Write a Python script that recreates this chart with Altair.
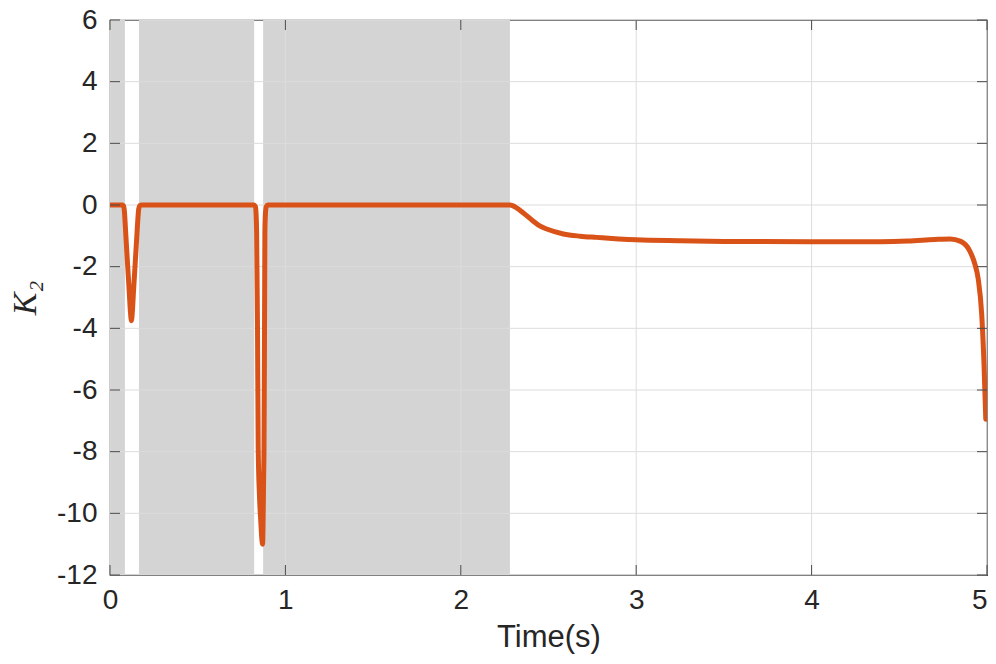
import altair as alt
import pandas as pd

# ---- data ----
time = [0, 0.05, 0.07, 0.077, 0.082, 0.09, 0.101, 0.11, 0.117, 0.122, 0.127, 0.134, 0.1425,
        0.152, 0.159, 0.164, 0.17, 0.18, 0.4, 0.6, 0.82, 0.829, 0.833, 0.836, 0.841, 0.845,
        0.852, 0.860, 0.866, 0.870, 0.873, 0.876, 0.878, 0.881, 0.883, 0.886, 0.891, 0.9,
        1.2, 1.6, 2.0, 2.28, 2.295, 2.32, 2.355, 2.41, 2.45, 2.49, 2.585, 2.68, 2.774, 2.9,
        3.0, 3.25, 3.5, 4.0, 4.39, 4.55, 4.7, 4.79, 4.85, 4.9, 4.93, 4.95, 4.97, 4.983, 4.993]
k2 = [0, 0, 0, -0.03, -0.2, -0.95, -2.0, -2.85, -3.5, -3.75, -3.5, -2.8, -2.0,
      -1.1, -0.45, -0.12, -0.02, 0, 0, 0, 0, -0.05, -0.3, -0.9, -4.0, -7.9,
      -9.4, -10.3, -10.85, -11.0, -10.2, -8.8, -7.9, -4.0, -0.9, -0.3, -0.05, 0,
      0, 0, 0, 0, -0.02, -0.1, -0.25, -0.51, -0.68, -0.78, -0.94, -1.01, -1.05, -1.1,
      -1.13, -1.16, -1.18, -1.19, -1.19, -1.17, -1.12, -1.1, -1.18, -1.47, -1.9, -2.4, -3.56, -5.17, -6.95]

shade_start = [0.0, 0.165, 0.873]
shade_end = [0.085, 0.822, 2.28]

x_ticks = [0, 1, 2, 3, 4, 5]
y_ticks = [6, 4, 2, 0, -2, -4, -6, -8, -10, -12]

W, H = 877, 555
TICK = 10
AXIS_COLOR = "#262626"

line_df = pd.DataFrame({"t": time, "k": k2})
shade_df = pd.DataFrame({"start": shade_start, "end": shade_end})
xt_df = pd.DataFrame({"t": x_ticks})
yt_df = pd.DataFrame({"k": y_ticks})

xscale = alt.Scale(domain=[0, 5], nice=False, zero=False)
yscale = alt.Scale(domain=[-12, 6], nice=False, zero=False)

shade = alt.Chart(shade_df).mark_rect(color="#d4d4d4").encode(
    x=alt.X("start:Q", scale=xscale,
            axis=alt.Axis(values=x_ticks, title="Time(s)", grid=False, ticks=False, domain=False,
                          labelExpr="toString(datum.value)", labelFont="Liberation Sans",
                          labelFontSize=28, labelColor=AXIS_COLOR, labelPadding=11,
                          labelAlign={"condition": {"test": "datum.value == 5", "value": "right"},
                                      "value": "center"},
                          titleFont="Liberation Sans", titleFontSize=31, titleFontWeight="normal",
                          titleColor=AXIS_COLOR, titlePadding=8)),
    x2="end:Q",
    y=alt.value(0),
    y2=alt.value(H),
)

ygrid = alt.Chart(yt_df).mark_rule(color="#dcdcdc", strokeWidth=1).encode(
    y=alt.Y("k:Q", scale=yscale,
            axis=alt.Axis(values=y_ticks, title="K₂", grid=False, ticks=False, domain=False,
                          labelExpr="toString(datum.value)", labelFont="Liberation Sans",
                          labelFontSize=28, labelColor=AXIS_COLOR, labelPadding=13,
                          titleFont="Liberation Serif", titleFontStyle="italic",
                          titleFontSize=34, titleFontWeight="normal", titleColor=AXIS_COLOR,
                          titlePadding=14)),
)
xgrid = alt.Chart(xt_df).mark_rule(color="#dcdcdc", strokeWidth=1).encode(
    x=alt.X("t:Q", scale=xscale),
)

line = alt.Chart(line_df).mark_line(color="#D95319", strokeWidth=5, interpolate="monotone",
                                    strokeCap="round", strokeJoin="round", clip=True).encode(
    x=alt.X("t:Q", scale=xscale),
    y=alt.Y("k:Q", scale=yscale),
)

tick_col = "#4a4a4a"
ytick_l = alt.Chart(yt_df).mark_rule(color=tick_col, strokeWidth=1).encode(
    y=alt.Y("k:Q", scale=yscale), x=alt.value(0), x2=alt.value(TICK))
ytick_r = alt.Chart(yt_df).mark_rule(color=tick_col, strokeWidth=1).encode(
    y=alt.Y("k:Q", scale=yscale), x=alt.value(W - TICK), x2=alt.value(W))
xtick_b = alt.Chart(xt_df).mark_rule(color=tick_col, strokeWidth=1).encode(
    x=alt.X("t:Q", scale=xscale), y=alt.value(H - TICK), y2=alt.value(H))
xtick_t = alt.Chart(xt_df).mark_rule(color=tick_col, strokeWidth=1).encode(
    x=alt.X("t:Q", scale=xscale), y=alt.value(0), y2=alt.value(TICK))

chart = alt.layer(shade, ygrid, xgrid, line, ytick_l, ytick_r, xtick_b, xtick_t).properties(
    width=W, height=H,
    autosize=alt.AutoSizeParams(type="none"),
    padding={"left": 102, "top": 12, "right": 1, "bottom": 85},
    background="white",
).configure_view(stroke=AXIS_COLOR, strokeWidth=1.2)

chart.save("out.html", embed_options={"renderer": "svg", "actions": False})
